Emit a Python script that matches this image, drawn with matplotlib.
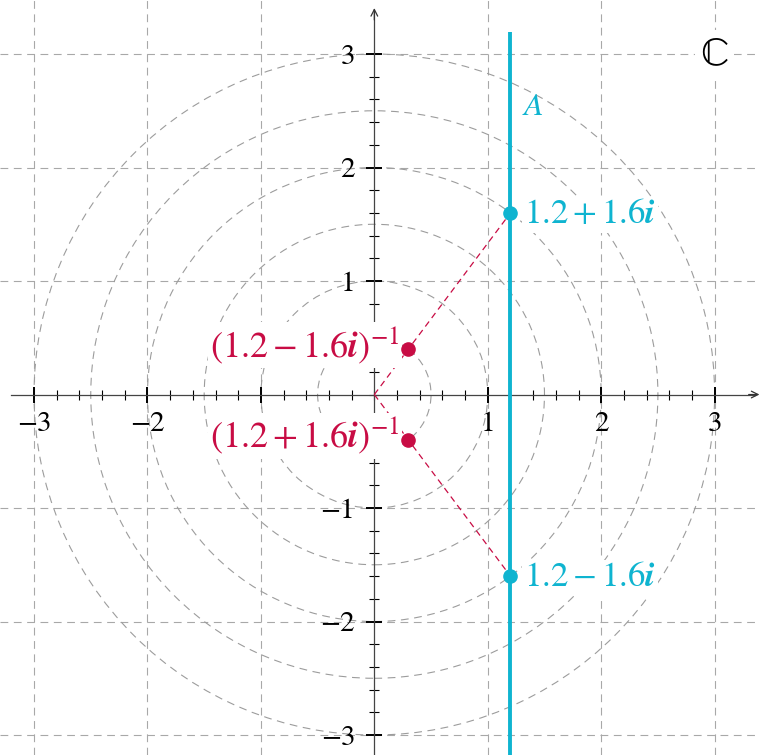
import numpy as np
import matplotlib.pyplot as plt
from matplotlib.patches import Circle

plt.rcParams['font.family'] = 'STIXGeneral'
plt.rcParams['mathtext.fontset'] = 'stix'

# --- dados ---
major_ticks = [-3, -2, -1, 1, 2, 3]
# o rótulo -1 do eixo real fica escondido atrás do rótulo vermelho
x_tick_labels = ['\u22123', '\u22122', '', '1', '2', '3']
y_tick_labels = ['\u22123', '\u22122', '\u22121', '1', '2', '3']
minor_ticks = np.round(np.arange(-3, 3.01, 0.2), 1)
radii = [0.5, 1.0, 1.5, 2.0, 2.5, 3.0]
line_re = 1.2                     # reta A: Re(z) = 1.2
z_pts = [1.2 + 1.6j, 1.2 - 1.6j]
z_inv = [1 / np.conj(z) for z in z_pts]   # (1.2 -/+ 1.6i)^-1
cyan_labels = [r'$1.2+1.6\mathbfit{i}$', r'$1.2-1.6\mathbfit{i}$']
red_labels = [r'$(1.2-1.6\mathbfit{i})^{-1}$', r'$(1.2+1.6\mathbfit{i})^{-1}$']

cyan = '#0fb4d0'
red = '#c80c44'
grey = '#a8a8a8'

fig = plt.figure(figsize=(7.6, 7.55), dpi=100)
ax = fig.add_axes([0, 0, 1, 1])
ax.set_xlim(-3.30, 3.40)
ax.set_ylim(-3.176, 3.476)

# grade tracejada
for v in major_ticks:
    ax.axvline(v, color=grey, lw=0.8, dashes=(7, 5), zorder=1)
    ax.axhline(v, color=grey, lw=0.8, dashes=(7, 5), zorder=1)

# círculos concêntricos
for r in radii:
    ax.add_patch(Circle((0, 0), r, fill=False, ec='#9c9c9c', lw=0.8,
                        linestyle=(0, (7, 5)), zorder=1))

# eixos pela origem
for side in ['top', 'right']:
    ax.spines[side].set_visible(False)
ax.spines['bottom'].set_position(('data', 0))
ax.spines['left'].set_position(('data', 0))
ax.spines['bottom'].set_bounds(-3.2, 3.36)
ax.spines['left'].set_bounds(-3.3, 3.37)
for side in ['bottom', 'left']:
    ax.spines[side].set_color('#444444')
    ax.spines[side].set_linewidth(0.9)
    ax.spines[side].set_zorder(2)
ax.annotate('', xy=(3.395, 0), xytext=(3.3, 0),
            arrowprops=dict(arrowstyle='->', color='#333333', lw=0.9,
                            mutation_scale=12, shrinkA=0, shrinkB=0))
ax.annotate('', xy=(0, 3.405), xytext=(0, 3.3),
            arrowprops=dict(arrowstyle='->', color='#333333', lw=0.9,
                            mutation_scale=12, shrinkA=0, shrinkB=0))

ax.set_xticks(major_ticks, x_tick_labels)
ax.set_yticks(major_ticks, y_tick_labels)
ax.set_xticks(minor_ticks, minor=True)
ax.set_yticks(minor_ticks, minor=True)
ax.tick_params(which='major', direction='inout', length=11.5, width=1.4,
               color='black', labelsize=21, pad=7)
ax.tick_params(which='minor', direction='inout', length=7.2, width=0.8,
               color='black')
ax.tick_params(axis='y', which='major', pad=8)

# reta A
ax.plot([line_re, line_re], [-3.4, 3.19], color=cyan, lw=2.8, zorder=4,
        solid_capstyle='butt')
ax.text(1.30, 2.46, r'$A$', color=cyan, fontsize=23, ha='left',
        va='baseline', zorder=5)

# segmentos da origem até os pontos
for z in z_pts:
    ax.plot([0, z.real], [0, z.imag], color=red, lw=0.9, dashes=(5, 3.5),
            zorder=3)

bbox = dict(facecolor='white', edgecolor='none', pad=1.5)

# pontos z e rótulos
ax.plot([z.real for z in z_pts], [z.imag for z in z_pts], 'o', color=cyan,
        ms=9.5, zorder=6)
for z, lab, yb in zip(z_pts, cyan_labels, [1.51, -1.69]):
    ax.text(1.32, yb, lab, color=cyan, fontsize=25, ha='left', va='baseline',
            bbox=bbox, zorder=5)

# inversos e rótulos
ax.plot([w.real for w in z_inv], [w.imag for w in z_inv], 'o', color=red,
        ms=9.5, zorder=6)
for w, lab, yb in zip(z_inv, red_labels, [0.33, -0.47]):
    ax.text(0.225, yb, lab, color=red, fontsize=26, ha='right', va='baseline',
            bbox=bbox, zorder=5)

ax.text(3, 3, '\u2102', fontsize=29, ha='center', va='center',
        bbox=dict(facecolor='white', edgecolor='none', pad=4), zorder=5)

fig.savefig('out.png', dpi=100)
